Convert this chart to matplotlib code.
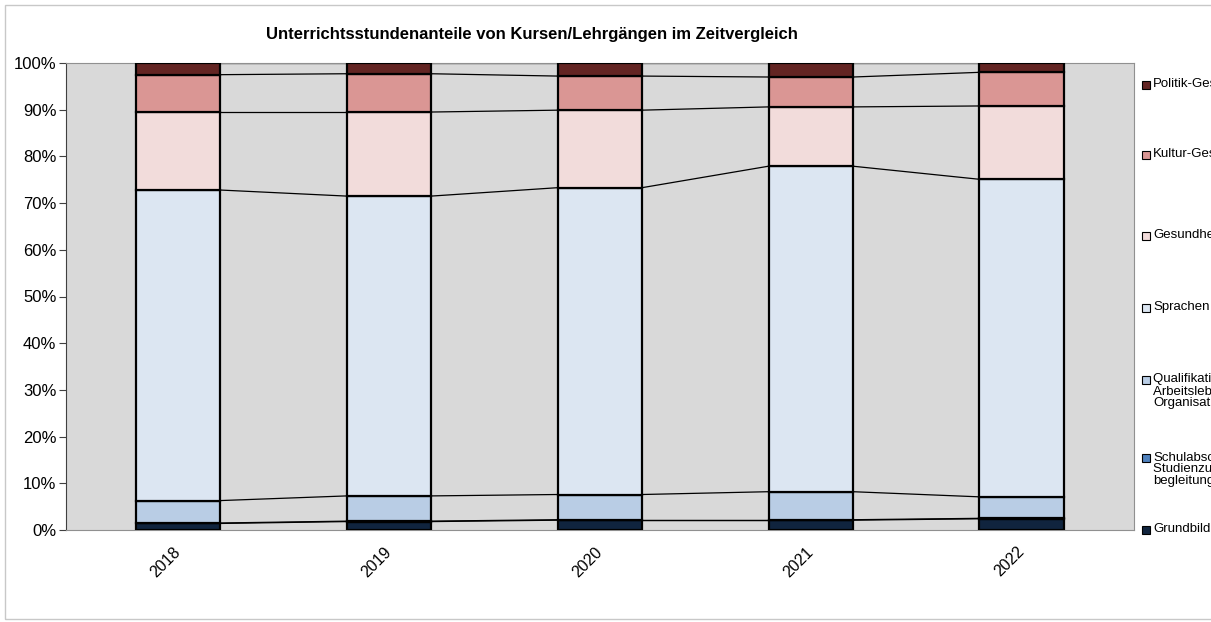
import matplotlib.pyplot as plt
from matplotlib.patches import Rectangle
import numpy as np

plt.rcParams['font.family'] = ['Liberation Sans', 'DejaVu Sans']

years = ["2018", "2019", "2020", "2021", "2022"]

# shares in percent, bottom to top
grundbildung = [1.4, 1.8, 2.1, 2.1, 2.4]
schulabschluss = [0.1, 0.1, 0.1, 0.1, 0.1]
qualifikation = [4.8, 5.4, 5.4, 6.0, 4.6]
sprachen = [66.5, 64.2, 65.7, 69.7, 68.0]
gesundheit = [16.7, 18.0, 16.6, 12.7, 15.7]
kultur = [8.0, 8.2, 7.3, 6.4, 7.2]
politik = [2.5, 2.3, 2.8, 3.0, 2.0]

labels = ["Grundbildung",
          "Schulabschlüsse,\nStudienzugang und -\nbegleitung",
          "Qualifikationen für das\nArbeitsleben, EDV,\nOrganisation",
          "Sprachen",
          "Gesundheit-Bewegung",
          "Kultur-Gestalten",
          "Politik-Gesellschaft"]
series = [grundbildung, schulabschluss, qualifikation, sprachen, gesundheit, kultur, politik]
colors = ["#10243E", "#4F81BD", "#B9CDE5", "#DCE6F2", "#F2DCDB", "#DA9694", "#632523"]

fig = plt.figure(figsize=(12.11, 6.22), dpi=100)
ax = fig.add_axes([66/1211, 1-530/622, (1134-66)/1211, (530-63)/622])
ax.set_facecolor("#D9D9D9")

x = np.arange(len(years))
w = 0.4
bottom = np.zeros(len(years))
for vals, col, lab in zip(series, colors, labels):
    vals = np.array(vals, dtype=float)
    ax.bar(x, vals, w, bottom=bottom, color=col, edgecolor='black', linewidth=1.6, label=lab, zorder=3)
    top = bottom + vals
    # series lines between bars
    for i in range(len(years) - 1):
        ax.plot([x[i] + w/2, x[i+1] - w/2], [top[i], top[i+1]], color='black', lw=0.9, zorder=2)
    bottom = top

ax.set_xlim(-0.531, len(years) - 1 + 0.533)
ax.set_ylim(0, 100)
ax.set_yticks(np.arange(0, 101, 10))
ax.set_yticklabels([f"{v}%" for v in range(0, 101, 10)], fontsize=12)
ax.set_xticks(x)
ax.set_xticklabels(years, rotation=45, fontsize=11.5, ha='right', va='center',
                   rotation_mode='anchor')
ax.tick_params(axis='x', length=0, pad=14)
ax.tick_params(axis='y', length=5, direction='out', color='#404040', pad=2)
for s in ['top', 'right', 'bottom']:
    ax.spines[s].set_color('#909090')
ax.spines['left'].set_color('#404040')

fig.text(532/1211, 1-34/622, "Unterrichtsstundenanteile von Kursen/Lehrgängen im Zeitvergleich",
         ha='center', va='center', fontsize=12, fontweight='bold')

# legend on the right, clipped by the figure edge like the original
leg_y = [530, 458, 380, 308, 236, 155, 85]
for col, lab, yy in zip(colors, labels, leg_y):
    fig.patches.append(Rectangle((1142/1211, 1-(yy+4)/622), 8/1211, 8/622,
                                 transform=fig.transFigure, facecolor=col,
                                 edgecolor='black', linewidth=0.8))
    fig.text(1153/1211, 1-(yy-7)/622, lab, ha='left', va='top', fontsize=9.5, linespacing=1.0)

# outer chart border
fig.patches.append(Rectangle((5/1211, 3/622), 1.2, 1-8/622, transform=fig.transFigure,
                             fill=False, edgecolor='#C8C8C8', linewidth=1))

plt.savefig('out.png', dpi=100)
